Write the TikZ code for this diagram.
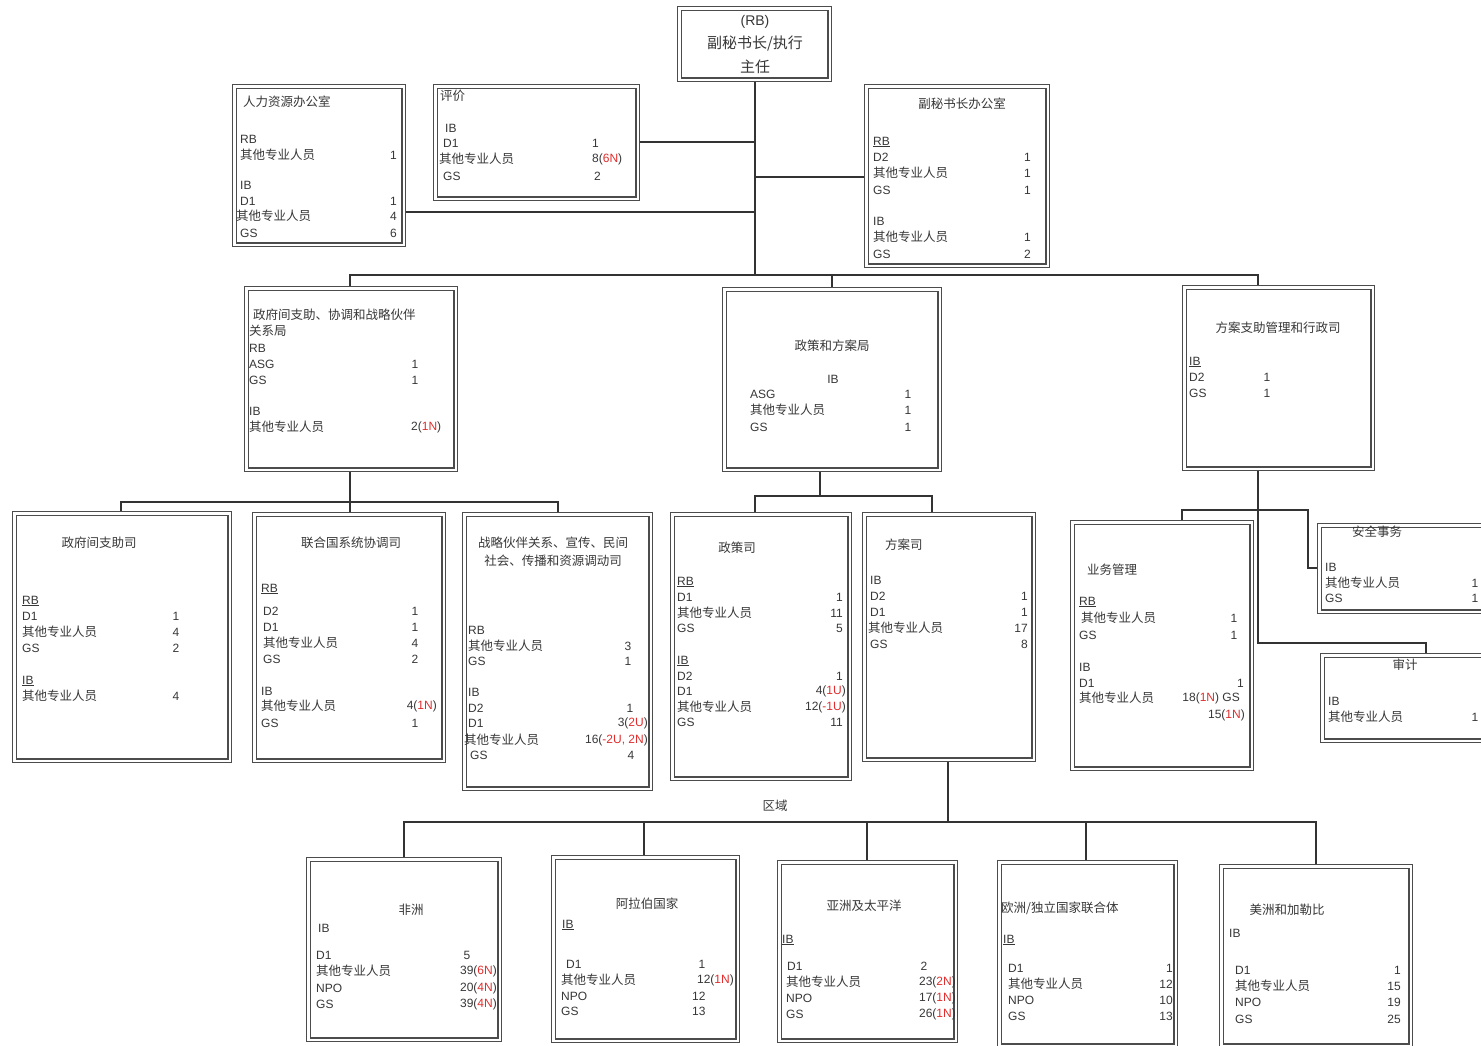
\documentclass[tikz,border=0pt]{standalone}
\usepackage{fontspec}
\setmainfont{Liberation Sans}
\newfontfamily\cjk{Noto Sans CJK SC}
\usetikzlibrary{calc}
\pgfdeclarelayer{bgzero}
\pgfdeclarelayer{background}
\pgfsetlayers{bgzero,background,main}
\definecolor{redn}{RGB}{225,45,45}
\definecolor{ink}{RGB}{55,55,55}
\newcounter{tn}
\newcommand\zh[1]{{\cjk\fontsize{12.5}{14}\selectfont #1}}
\newcommand\qt{\zh{其他专业人员}}
\newcommand\rd[1]{\textcolor{redn}{#1}}
\newcommand\txL[3]{\stepcounter{tn}\node[txt,anchor=west] (t\arabic{tn}) at (#1,#2) {#3};}
\newcommand\txR[3]{\stepcounter{tn}\node[txt,anchor=east] (t\arabic{tn}) at (#1,#2) {#3};}
\newcommand\txC[3]{\stepcounter{tn}\node[txt,anchor=center] (t\arabic{tn}) at (#1,#2) {#3};}
\newcommand\bx[5]{\node[obox,minimum width={#4-#2-4.6},minimum height={#5-#3-4.6}] (#1) at ({(#2+#4)/2},{(#3+#5)/2}) {};}
\tikzset{
  obox/.style={draw=black!70,double=white,double distance=2.4pt,line width=1.1pt,fill=white,inner sep=0pt,outer sep=0pt},
  txt/.style={inner sep=0pt,text=ink,font=\fontsize{12}{14}\selectfont},
  conn/.style={draw=black!80,line width=1.5pt}
}
\begin{document}
\begin{tikzpicture}[x=1pt,y=-1pt]
\begin{pgfonlayer}{bgzero}
\fill[white] (0,0) rectangle (1481,1045);
\end{pgfonlayer}
\useasboundingbox (0,0) rectangle (1481,1045);
% ---------- boxes ----------
\bx{top}{677}{6}{832}{82}
\bx{hr}{232}{84}{406}{247}
\bx{eval}{433}{84}{640}{201}
\bx{dsg}{864}{84}{1050}{268}
\bx{gov}{244}{286}{458}{472}
\bx{pol}{722}{287}{942}{472}
\bx{psm}{1182}{285}{1375}{471}
\bx{igs}{12}{511}{232}{763}
\bx{unsc}{252}{512}{446}{763}
\bx{spc}{462}{512}{653}{791}
\bx{pold}{670}{512}{852}{781}
\bx{progd}{862}{512}{1036}{762}
\bx{ops}{1070}{520}{1254}{771}
\bx{sec}{1317}{523}{1540}{614}
\bx{audit}{1320}{653}{1540}{743}
\bx{afr}{306}{857}{502}{1042}
\bx{arab}{551}{855}{740}{1043}
\bx{asia}{777}{860}{958}{1043}
\bx{eur}{997}{860}{1178}{1048}
\bx{amer}{1219}{864}{1413}{1048}
% ---------- junctions ----------
\coordinate (j1) at (755,275);
\coordinate (j142) at (755,142);
\coordinate (j177) at (755,177);
\coordinate (j212) at (755,212);
\coordinate (jL) at (350,275);
\coordinate (jR) at (1258,275);
\coordinate (jM) at (832,275);
\coordinate (kA) at (121,502);
\coordinate (kB) at (350,502);
\coordinate (kC) at (558,502);
\coordinate (m0) at (820,496);
\coordinate (mL) at (755,496);
\coordinate (mR) at (932,496);
\coordinate (n0) at (1258,510);
\coordinate (nL) at (1182,510);
\coordinate (nR) at (1308,510);
\coordinate (n1) at (1308,568);
\coordinate (n2) at (1258,643);
\coordinate (n3) at (1426,643);
\coordinate (p0) at (948,822);
\coordinate (pA) at (404,822);
\coordinate (pB) at (644,822);
\coordinate (pC) at (867,822);
\coordinate (pD) at (1086,822);
\coordinate (pE) at (1316,822);
% ---------- connectors ----------
\begin{pgfonlayer}{background}
\draw[conn] (top.south -| j1) -- (j1);
\draw[conn] (eval.east |- j142) -- (j142);
\draw[conn] (hr.east |- j212) -- (j212);
\draw[conn] (j177) -- (dsg.west |- j177);
\draw[conn] (gov.north -| jL) -- (jL) -- (jR) -- (psm.north -| jR);
\draw[conn] (jM) -- (pol.north -| jM);
\draw[conn] (gov.south -| kB) -- (unsc.north -| kB);
\draw[conn] (igs.north -| kA) -- (kA) -- (kC) -- (spc.north -| kC);
\draw[conn] (pol.south -| m0) -- (m0);
\draw[conn] (pold.north -| mL) -- (mL) -- (mR) -- (progd.north -| mR);
\draw[conn] (psm.south -| n0) -- (n2) -- (n3) -- (audit.north -| n3);
\draw[conn] (ops.north -| nL) -- (nL) -- (nR) -- (n1) -- (sec.west |- n1);
\draw[conn] (progd.south -| p0) -- (p0);
\draw[conn] (afr.north -| pA) -- (pA) -- (pE) -- (amer.north -| pE);
\draw[conn] (pB) -- (arab.north -| pB);
\draw[conn] (pC) -- (asia.north -| pC);
\draw[conn] (pD) -- (eur.north -| pD);
\end{pgfonlayer}
% ---------- texts ----------
% top
\txC{755}{22}{\fontsize{14}{16}\selectfont (RB)}
\txC{755}{44}{{\cjk\fontsize{15}{17}\selectfont 副秘书长/执行}}
\txC{755}{67}{{\cjk\fontsize{15}{17}\selectfont 主任}}
% hr
\txL{243}{102}{\zh{人力资源办公室}}
\txL{240}{139}{RB}
\txL{240}{155}{\qt} \txR{397}{155}{1}
\txL{240}{185}{IB}
\txL{240}{201}{D1} \txR{397}{201}{1}
\txL{236}{216}{\qt} \txR{397}{216}{4}
\txL{240}{233}{GS} \txR{397}{233}{6}
% eval
\txL{440}{96}{\zh{评价}}
\txL{445}{128}{IB}
\txL{443}{143}{D1} \txL{592}{143}{1}
\txL{439}{159}{\qt} \txL{592}{159}{8(\rd{6N})}
\txL{443}{176}{GS} \txL{594}{176}{2}
% dsg
\txC{962}{104}{\zh{副秘书长办公室}}
\txL{873}{142}{\underline{RB}}
\txL{873}{157}{D2} \txR{1031}{157}{1}
\txL{873}{173}{\qt} \txR{1031}{173}{1}
\txL{873}{190}{GS} \txR{1031}{190}{1}
\txL{873}{221}{IB}
\txL{873}{237}{\qt} \txR{1031}{237}{1}
\txL{873}{254}{GS} \txR{1031}{254}{2}
% gov
\txL{253}{315}{\zh{政府间支助、协调和战略伙伴}}
\txL{249}{331}{\zh{关系局}}
\txL{249}{348}{RB}
\txL{249}{364}{ASG} \txC{415}{364}{1}
\txL{249}{380}{GS} \txC{415}{380}{1}
\txL{249}{411}{IB}
\txL{249}{427}{\qt} \txL{411}{427}{2(\rd{1N})}
% pol
\txC{832}{346}{\zh{政策和方案局}}
\txC{833}{379}{IB}
\txL{750}{394}{ASG} \txC{908}{394}{1}
\txL{750}{410}{\qt} \txC{908}{410}{1}
\txL{750}{427}{GS} \txC{908}{427}{1}
% psm
\txC{1278}{328}{\zh{方案支助管理和行政司}}
\txL{1189}{362}{\underline{IB}}
\txL{1189}{377}{D2} \txC{1267}{377}{1}
\txL{1189}{393}{GS} \txC{1267}{393}{1}
% igs
\txC{99}{543}{\zh{政府间支助司}}
\txL{22}{601}{\underline{RB}}
\txL{22}{616}{D1} \txC{176}{616}{1}
\txL{22}{632}{\qt} \txC{176}{632}{4}
\txL{22}{648}{GS} \txC{176}{648}{2}
\txL{22}{681}{\underline{IB}}
\txL{22}{696}{\qt} \txC{176}{696}{4}
% unsc
\txC{351}{543}{\zh{联合国系统协调司}}
\txL{261}{589}{\underline{RB}}
\txL{263}{611}{D2} \txC{415}{611}{1}
\txL{263}{627}{D1} \txC{415}{627}{1}
\txL{263}{643}{\qt} \txC{415}{643}{4}
\txL{263}{659}{GS} \txC{415}{659}{2}
\txL{261}{691}{IB}
\txL{261}{706}{\qt} \txR{437}{706}{4(\rd{1N})}
\txL{261}{723}{GS} \txC{415}{723}{1}
% spc
\txC{553}{543}{\zh{战略伙伴关系、宣传、民间}}
\txC{553}{561}{\zh{社会、传播和资源调动司}}
\txL{468}{630}{RB}
\txL{468}{646}{\qt} \txC{628}{646}{3}
\txL{468}{661}{GS} \txC{628}{661}{1}
\txL{468}{692}{IB}
\txL{468}{708}{D2} \txC{630}{708}{1}
\txL{468}{723}{D1} \txR{648}{723}{3(\rd{2U})}
\txL{464}{740}{\qt} \txR{648}{740}{16(\rd{-2U, 2N})}
\txL{470}{755}{GS} \txC{631}{755}{4}
% pold
\txC{737}{548}{\zh{政策司}}
\txL{677}{582}{\underline{RB}}
\txL{677}{597}{D1} \txR{843}{597}{1}
\txL{677}{613}{\qt} \txR{843}{613}{11}
\txL{677}{628}{GS} \txR{843}{628}{5}
\txL{677}{661}{\underline{IB}}
\txL{677}{676}{D2} \txR{843}{676}{1}
\txL{677}{691}{D1} \txR{846}{691}{4(\rd{1U})}
\txL{677}{707}{\qt} \txR{846}{707}{12(\rd{-1U})}
\txL{677}{722}{GS} \txR{843}{722}{11}
% progd
\txL{885}{545}{\zh{方案司}}
\txL{870}{580}{IB}
\txL{870}{596}{D2} \txR{1028}{596}{1}
\txL{870}{612}{D1} \txR{1028}{612}{1}
\txL{868}{628}{\qt} \txR{1028}{628}{17}
\txL{870}{644}{GS} \txR{1028}{644}{8}
% ops
\txL{1087}{570}{\zh{业务管理}}
\txL{1079}{602}{\underline{RB}}
\txL{1081}{618}{\qt} \txC{1234}{618}{1}
\txL{1079}{635}{GS} \txC{1234}{635}{1}
\txL{1079}{667}{IB}
\txL{1079}{683}{D1} \txR{1244}{683}{1}
\txL{1079}{698}{\qt} \txR{1240}{698}{18(\rd{1N}) GS}
\txR{1245}{715}{15(\rd{1N})}
% sec
\txC{1377}{532}{\zh{安全事务}}
\txL{1325}{567}{IB}
\txL{1325}{583}{\qt} \txC{1475}{583}{1}
\txL{1325}{598}{GS} \txC{1475}{598}{1}
% audit
\txC{1405}{665}{\zh{审计}}
\txL{1328}{701}{IB}
\txL{1328}{717}{\qt} \txC{1475}{717}{1}
% region label
\txC{775}{806}{\zh{区域}}
% afr
\txC{411}{910}{\zh{非洲}}
\txL{318}{928}{IB}
\txL{316}{955}{D1} \txC{467}{955}{5}
\txL{316}{971}{\qt} \txR{497}{971}{39(\rd{6N})}
\txL{316}{988}{NPO} \txR{497}{988}{20(\rd{4N})}
\txL{316}{1004}{GS} \txR{497}{1004}{39(\rd{4N})}
% arab
\txC{647}{904}{\zh{阿拉伯国家}}
\txL{562}{925}{\underline{IB}}
\txL{566}{964}{D1} \txC{702}{964}{1}
\txL{561}{980}{\qt} \txR{734}{980}{12(\rd{1N})}
\txL{561}{996}{NPO} \txL{692}{996}{12}
\txL{561}{1011}{GS} \txL{692}{1011}{13}
% asia
\txC{864}{906}{\zh{亚洲及太平洋}}
\txL{782}{940}{\underline{IB}}
\txL{787}{966}{D1} \txC{924}{966}{2}
\txL{786}{982}{\qt} \txR{956}{982}{23(\rd{2N})}
\txL{786}{998}{NPO} \txR{956}{998}{17(\rd{1N})}
\txL{786}{1014}{GS} \txR{956}{1014}{26(\rd{1N})}
% eur
\txL{1001}{908}{\zh{欧洲/独立国家联合体}}
\txL{1003}{940}{\underline{IB}}
\txL{1008}{968}{D1} \txR{1173}{968}{1}
\txL{1008}{984}{\qt} \txR{1173}{984}{12}
\txL{1008}{1000}{NPO} \txR{1173}{1000}{10}
\txL{1008}{1016}{GS} \txR{1173}{1016}{13}
% amer
\txC{1287}{910}{\zh{美洲和加勒比}}
\txL{1229}{933}{IB}
\txL{1235}{970}{D1} \txR{1401}{970}{1}
\txL{1235}{986}{\qt} \txR{1401}{986}{15}
\txL{1235}{1002}{NPO} \txR{1401}{1002}{19}
\txL{1235}{1019}{GS} \txR{1401}{1019}{25}
\end{tikzpicture}
\end{document}
